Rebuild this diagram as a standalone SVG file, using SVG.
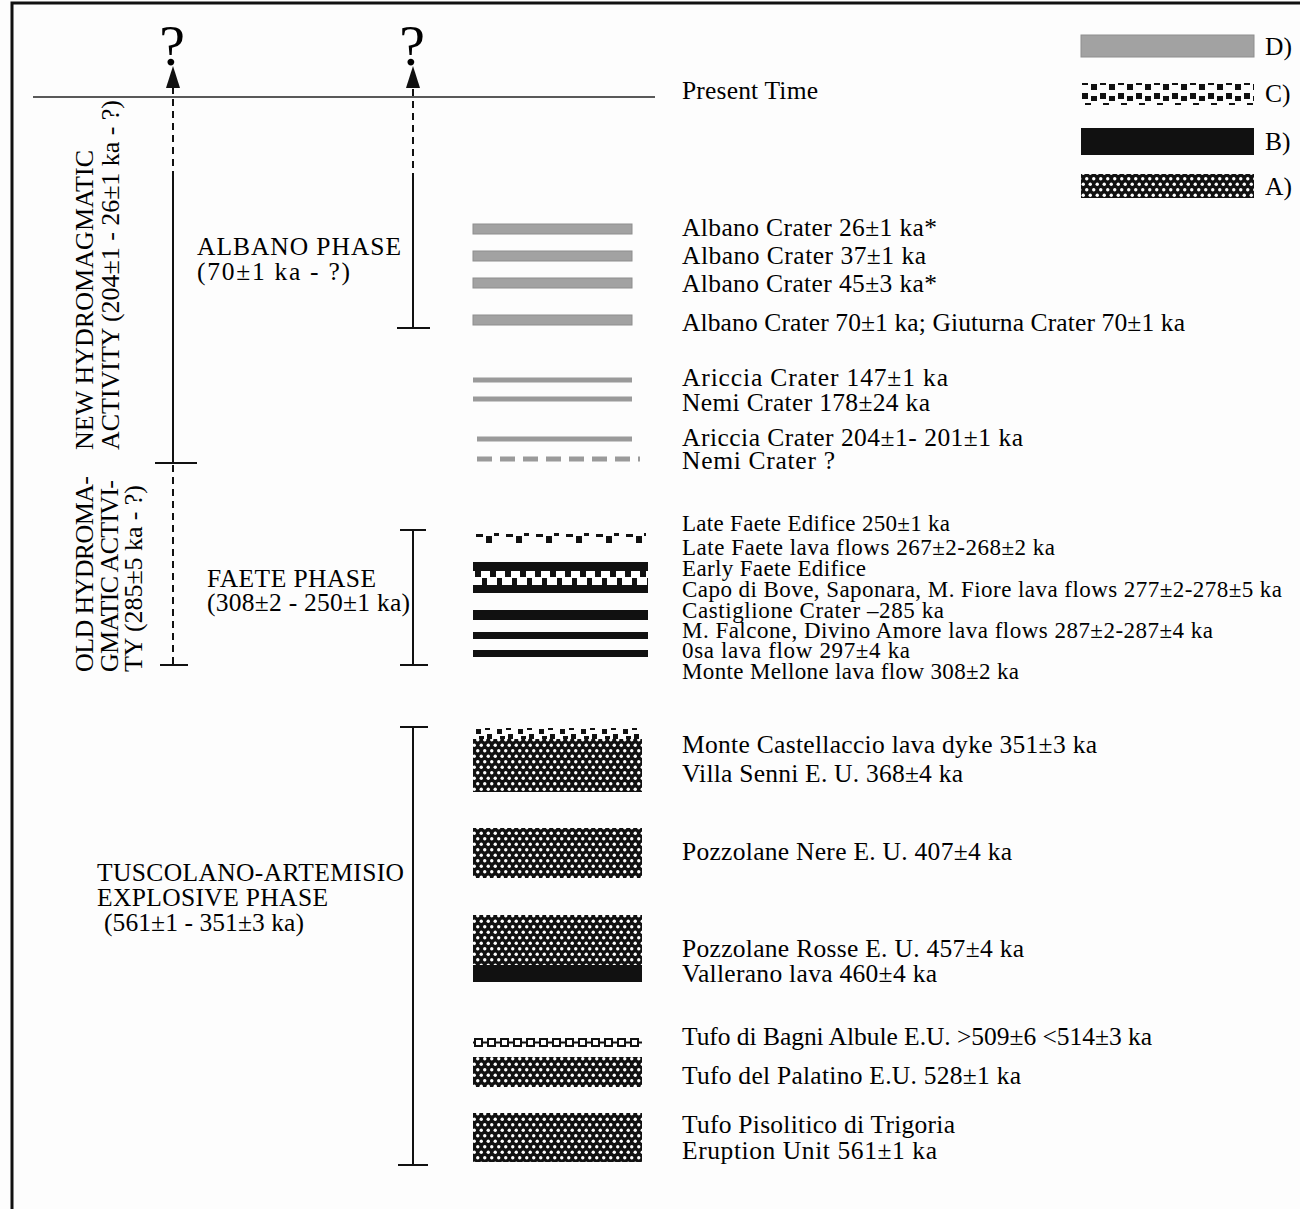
<svg xmlns="http://www.w3.org/2000/svg" width="1300" height="1209" viewBox="0 0 1300 1209">
<style>
text{font-family:"Liberation Serif","Times New Roman",serif;fill:#000}
.r{font-size:25.5px}
.f{font-size:23px}
.l{font-size:25.5px}
.v{font-size:26px}
.q{font-size:58px}
.ln{stroke:#111;stroke-width:2;fill:none}
.dash{stroke:#111;stroke-width:2;fill:none;stroke-dasharray:7 5}
.gray{fill:#a2a2a2;stroke:#8e8e8e;stroke-width:1}
.gl{stroke:#9a9a9a;fill:none}
</style>
<defs>
<pattern id="patA" patternUnits="userSpaceOnUse" width="7" height="11">
<rect width="7" height="11" fill="#111"/>
<circle cx="1.75" cy="2.75" r="1.7" fill="#fff"/>
<circle cx="5.25" cy="8.25" r="1.7" fill="#fff"/>
</pattern>
<pattern id="patC" patternUnits="userSpaceOnUse" width="18" height="25" patternTransform="translate(1081,82)">
<rect x="1" y="1" width="6" height="2" fill="#111"/>
<rect x="10" y="2" width="6" height="6" fill="#111"/>
<rect x="1" y="11" width="6" height="6" fill="#111"/>
<rect x="10" y="14" width="6" height="5" fill="#111"/>
<rect x="4" y="21" width="6" height="2" fill="#111"/>
</pattern>
<pattern id="patC1" patternUnits="userSpaceOnUse" width="30" height="11" patternTransform="translate(476,533)">
<rect x="0" y="1" width="7" height="3" fill="#111"/>
<rect x="10" y="3" width="6" height="7" fill="#111"/>
<rect x="18" y="0" width="5" height="3" fill="#111"/>
</pattern>
<pattern id="patC2" patternUnits="userSpaceOnUse" width="15" height="14" patternTransform="translate(473,571)">
<rect width="15" height="14" fill="#fff"/>
<rect x="2" y="0" width="6" height="6" fill="#111"/>
<rect x="9" y="7" width="5" height="7" fill="#111"/>
</pattern>
<pattern id="patC3" patternUnits="userSpaceOnUse" width="21" height="12" patternTransform="translate(473,728)">
<rect x="3" y="1" width="5" height="5" fill="#111"/>
<rect x="12" y="0" width="5" height="2" fill="#111"/>
<rect x="14" y="6" width="5" height="6" fill="#111"/>
<rect x="6" y="8" width="5" height="4" fill="#111"/>
</pattern>
<pattern id="patChain" patternUnits="userSpaceOnUse" width="13" height="10" patternTransform="translate(474,1038)">
<rect x="1" y="1" width="7" height="7" fill="#fff" stroke="#111" stroke-width="2"/>
<rect x="8" y="3.5" width="6" height="2" fill="#111"/>
</pattern>
<marker id="arr" markerUnits="userSpaceOnUse" markerWidth="22" markerHeight="14" viewBox="0 0 22 14" refX="8" refY="7" orient="auto">
<path d="M0,0 L22,7 L0,14 z" fill="#111"/>
</marker>
</defs>

<rect width="1300" height="1209" fill="#fdfdfd"/>
<path d="M12,1209 V3 H1300" stroke="#111" stroke-width="3" fill="none"/>

<g id="connectors">
<path d="M33,97 H655" stroke="#222" stroke-width="1.5" fill="none"/>
<path class="dash" d="M173,178 V80" marker-end="url(#arr)"/>
<path class="ln" d="M173,178 V463"/>
<path class="ln" d="M155,463 H197"/>
<path class="dash" d="M173,465 V665"/>
<path class="ln" d="M160,665 H188"/>
<path class="dash" d="M413,180 V80" marker-end="url(#arr)"/>
<path class="ln" d="M413,180 V328"/>
<path class="ln" d="M397,328 H430"/>
<path class="ln" d="M400,530 H426 M413,530 V665 M400,665 H428"/>
<path class="ln" d="M400,727 H428 M413,727 V1165 M398,1165 H428"/>
</g>

<g id="questions">
<text class="q" x="172" y="65" text-anchor="middle">?</text>
<text class="q" x="412" y="65" text-anchor="middle">?</text>
</g>

<g id="legend">
<rect class="gray" x="1081" y="35" width="173" height="22"/>
<text class="r" x="1265" y="55">D)</text>
<rect x="1081" y="82" width="173" height="25" fill="url(#patC)"/>
<text class="r" x="1265" y="102">C)</text>
<rect x="1081" y="128" width="173" height="27" fill="#111"/>
<text class="r" x="1265" y="150">B)</text>
<rect x="1081" y="174" width="173" height="24" fill="url(#patA)"/>
<text class="r" x="1265" y="195">A)</text>
</g>

<g id="left-labels">
<text class="v" transform="translate(93,450) rotate(-90)" textLength="300">NEW HYDROMAGMATIC</text>
<text class="v" transform="translate(119,450) rotate(-90)" textLength="350">ACTIVITY (204±1 - 26±1 ka - ?)</text>
<text class="v" transform="translate(93,672) rotate(-90)" textLength="196">OLD HYDROMA-</text>
<text class="v" transform="translate(118,672) rotate(-90)" textLength="192">GMATIC ACTIVI-</text>
<text class="v" transform="translate(142,672) rotate(-90)" textLength="187">TY (285±5 ka - ?)</text>
<text class="l" x="197" y="255" textLength="204">ALBANO  PHASE</text>
<text class="l" x="197" y="280" textLength="153">(70±1  ka  -  ?)</text>
<text class="l" x="207" y="587" textLength="169">FAETE PHASE</text>
<text class="l" x="207" y="611" textLength="203">(308±2 - 250±1 ka)</text>
<text class="l" x="97" y="881" textLength="307">TUSCOLANO-ARTEMISIO</text>
<text class="l" x="97" y="906" textLength="231">EXPLOSIVE PHASE</text>
<text class="l" x="104" y="931" textLength="200">(561±1 - 351±3 ka)</text>
</g>

<g id="albano-bars">
<rect class="gray" x="473" y="224" width="159" height="10"/>
<rect class="gray" x="473" y="251" width="159" height="10"/>
<rect class="gray" x="473" y="278" width="159" height="10"/>
<rect class="gray" x="473" y="315" width="159" height="10"/>
<path class="gl" d="M473,380 H632" stroke-width="5"/>
<path class="gl" d="M473,399 H632" stroke-width="5"/>
<path class="gl" d="M477,439 H632" stroke-width="5"/>
<path class="gl" d="M477,459 H640" stroke-width="5" stroke-dasharray="15 8"/>
</g>

<g id="faete-bars">
<rect x="476" y="533" width="170" height="11" fill="url(#patC1)"/>
<rect x="473" y="562" width="175" height="10" fill="#111"/>
<rect x="473" y="571" width="175" height="14" fill="url(#patC2)"/>
<rect x="473" y="585" width="175" height="8" fill="#111"/>
<rect x="473" y="610" width="175" height="10" fill="#111"/>
<rect x="473" y="632" width="175" height="7" fill="#111"/>
<rect x="473" y="650" width="175" height="7" fill="#111"/>
</g>

<g id="tuscolano-bars">
<rect x="473" y="728" width="169" height="12" fill="url(#patC3)"/>
<rect x="473" y="739" width="169" height="53" fill="url(#patA)"/>
<rect x="473" y="828" width="169" height="50" fill="url(#patA)"/>
<rect x="473" y="915" width="169" height="50" fill="url(#patA)"/>
<rect x="473" y="965" width="169" height="17" fill="#111"/>
<rect x="473" y="1038" width="169" height="10" fill="url(#patChain)"/>
<rect x="473" y="1057" width="169" height="30" fill="url(#patA)"/>
<rect x="473" y="1113" width="169" height="49" fill="url(#patA)"/>
</g>

<g id="right-labels">
<text class="r" x="682" y="99" textLength="136">Present Time</text>
<text class="r" x="682" y="236" textLength="255">Albano Crater 26±1 ka*</text>
<text class="r" x="682" y="264" textLength="244">Albano Crater 37±1 ka</text>
<text class="r" x="682" y="292" textLength="255">Albano Crater 45±3 ka*</text>
<text class="r" x="682" y="331" textLength="503">Albano Crater 70±1 ka; Giuturna Crater 70±1 ka</text>
<text class="r" x="682" y="386" textLength="266">Ariccia Crater  147±1  ka</text>
<text class="r" x="682" y="411" textLength="248">Nemi Crater 178±24 ka</text>
<text class="r" x="682" y="446" textLength="341">Ariccia Crater  204±1- 201±1 ka</text>
<text class="r" x="682" y="469" textLength="153">Nemi Crater  ?</text>
<text class="f" x="682" y="531" textLength="268">Late Faete Edifice 250±1 ka</text>
<text class="f" x="682" y="555" textLength="373">Late Faete lava flows  267±2-268±2 ka</text>
<text class="f" x="682" y="576" textLength="184">Early Faete Edifice</text>
<text class="f" x="682" y="597" textLength="600">Capo di Bove, Saponara, M. Fiore lava flows  277±2-278±5 ka</text>
<text class="f" x="682" y="618" textLength="262">Castiglione Crater  –285 ka</text>
<text class="f" x="682" y="638" textLength="531">M. Falcone, Divino Amore lava flows  287±2-287±4 ka</text>
<text class="f" x="682" y="658" textLength="228">0sa lava flow  297±4 ka</text>
<text class="f" x="682" y="679" textLength="337">Monte Mellone lava flow 308±2 ka</text>
<text class="r" x="682" y="753" textLength="415">Monte Castellaccio lava dyke 351±3 ka</text>
<text class="r" x="682" y="782" textLength="281">Villa Senni E. U. 368±4 ka</text>
<text class="r" x="682" y="860" textLength="330">Pozzolane Nere E. U. 407±4 ka</text>
<text class="r" x="682" y="957" textLength="342">Pozzolane Rosse E. U. 457±4 ka</text>
<text class="r" x="682" y="982" textLength="255">Vallerano lava 460±4 ka</text>
<text class="r" x="682" y="1045" textLength="470">Tufo di Bagni Albule E.U. &gt;509±6 &lt;514±3 ka</text>
<text class="r" x="682" y="1084" textLength="339">Tufo del Palatino E.U. 528±1 ka</text>
<text class="r" x="682" y="1133" textLength="273">Tufo Pisolitico di Trigoria</text>
<text class="r" x="682" y="1159" textLength="255">Eruption Unit  561±1 ka</text>
</g>
</svg>
